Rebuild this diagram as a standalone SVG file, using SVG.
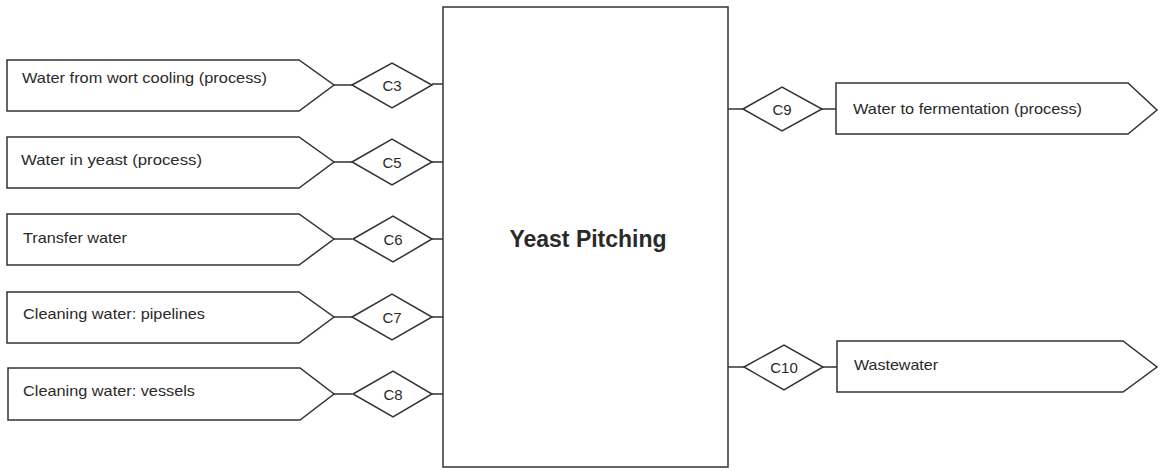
<svg xmlns="http://www.w3.org/2000/svg" width="1160" height="471" viewBox="0 0 1160 471">
<style>
.s{fill:#fff;stroke:#333;stroke-width:1.5;stroke-linejoin:miter}
.c{fill:none;stroke:#333;stroke-width:1.5}
.t{font-family:"Liberation Sans",Arial,sans-serif;font-size:15px;fill:#2a2a2a}
.d{font-family:"Liberation Sans",Arial,sans-serif;font-size:15px;fill:#2a2a2a;text-anchor:middle}
.b{font-family:"Liberation Sans",Arial,sans-serif;font-size:23px;font-weight:bold;fill:#2a2a2a;text-anchor:middle}
</style>
<rect width="1160" height="471" fill="#fff"/>
<g id="connectors">
<path class="c" d="M334 85H352M432 84H443"/>
<path class="c" d="M334 162H352M432 162H443"/>
<path class="c" d="M334 239H352M432 239H443"/>
<path class="c" d="M334 317H352M432 317H443"/>
<path class="c" d="M334 394H352M432 394H443"/>
<path class="c" d="M728 109H743M822 109H836"/>
<path class="c" d="M728 367H744M823 367H837"/>
</g>
<g id="yeast-pitching">
<rect class="s" x="443" y="7" width="285" height="460"/>
<text class="b" x="588" y="247">Yeast Pitching</text>
</g>
<g id="in-wort-cooling">
<polygon class="s" points="7,60 299,60 334,85 299,111 7,111"/>
<text class="t" x="22" y="83" textLength="245" lengthAdjust="spacingAndGlyphs">Water from wort cooling (process)</text>
</g>
<g id="c3"><polygon class="s" points="352,85 392,63 432,85 392,108"/><text class="d" x="392" y="91">C3</text></g>
<g id="in-yeast">
<polygon class="s" points="7,137 299,137 334,162 299,188 7,188"/>
<text class="t" x="21" y="165" textLength="181" lengthAdjust="spacingAndGlyphs">Water in yeast (process)</text>
</g>
<g id="c5"><polygon class="s" points="352,162 392,139 432,162 392,185"/><text class="d" x="392" y="168">C5</text></g>
<g id="in-transfer">
<polygon class="s" points="7,214 299,214 334,239 299,265 7,265"/>
<text class="t" x="23" y="243" textLength="104" lengthAdjust="spacingAndGlyphs">Transfer water</text>
</g>
<g id="c6"><polygon class="s" points="353,239 393,216 432,239 393,262"/><text class="d" x="393" y="245">C6</text></g>
<g id="in-pipelines">
<polygon class="s" points="7,292 299,292 334,317 299,343 7,343"/>
<text class="t" x="23" y="319" textLength="182" lengthAdjust="spacingAndGlyphs">Cleaning water: pipelines</text>
</g>
<g id="c7"><polygon class="s" points="352,317 392,294 432,317 392,340"/><text class="d" x="392" y="323">C7</text></g>
<g id="in-vessels">
<polygon class="s" points="8,368 300,368 334,394 300,420 8,420"/>
<text class="t" x="23" y="396" textLength="172" lengthAdjust="spacingAndGlyphs">Cleaning water: vessels</text>
</g>
<g id="c8"><polygon class="s" points="353,394 393,371 432,394 393,417"/><text class="d" x="393" y="400">C8</text></g>
<g id="c9"><polygon class="s" points="743,109 782,87 822,109 782,131"/><text class="d" x="782" y="115">C9</text></g>
<g id="out-fermentation">
<polygon class="s" points="836,83 1128,83 1157,110 1128,134 836,134"/>
<text class="t" x="853" y="114" textLength="229" lengthAdjust="spacingAndGlyphs">Water to fermentation (process)</text>
</g>
<g id="c10"><polygon class="s" points="744,367 784,345 823,367 784,390"/><text class="d" x="784" y="373">C10</text></g>
<g id="out-wastewater">
<polygon class="s" points="837,341 1123,341 1157,367 1123,392 837,392"/>
<text class="t" x="854" y="370" textLength="84" lengthAdjust="spacingAndGlyphs">Wastewater</text>
</g>
</svg>
